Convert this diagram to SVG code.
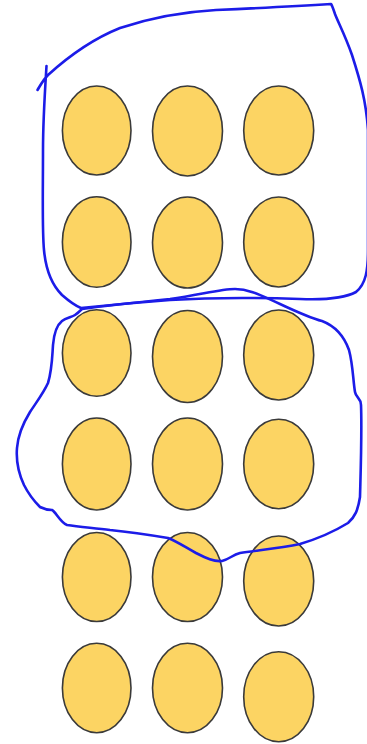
<svg xmlns="http://www.w3.org/2000/svg" width="367" height="744" viewBox="0 0 367 744">
<style>
.dot{fill:#FCD463;stroke:#3a3a3a;stroke-width:1.6}
.loop{fill:none;stroke:#1c1ce8;stroke-width:2.6;stroke-linecap:round;stroke-linejoin:round}
</style>
<rect width="367" height="744" fill="#ffffff"/>
<g id="nodes">
<ellipse id="n1" class="dot" cx="96.7" cy="130.5" rx="34.3" ry="44.5"/>
<ellipse id="n2" class="dot" cx="187.5" cy="131" rx="35" ry="45"/>
<ellipse id="n3" class="dot" cx="278.7" cy="130.5" rx="35" ry="44.5"/>
<ellipse id="n4" class="dot" cx="96.7" cy="242" rx="34.3" ry="45.3"/>
<ellipse id="n5" class="dot" cx="187.5" cy="242.5" rx="35" ry="45.5"/>
<ellipse id="n6" class="dot" cx="278.7" cy="242" rx="35" ry="45"/>
<ellipse id="n7" class="dot" cx="96.7" cy="353" rx="34.3" ry="43.3"/>
<ellipse id="n8" class="dot" cx="187.5" cy="356.5" rx="35" ry="46"/>
<ellipse id="n9" class="dot" cx="278.7" cy="355" rx="35" ry="45"/>
<ellipse id="n10" class="dot" cx="96.7" cy="464" rx="34.3" ry="46"/>
<ellipse id="n11" class="dot" cx="187.5" cy="464" rx="35" ry="46"/>
<ellipse id="n12" class="dot" cx="278.7" cy="464" rx="35" ry="44.7"/>
<ellipse id="n13" class="dot" cx="96.7" cy="577" rx="34.3" ry="44.5"/>
<ellipse id="n14" class="dot" cx="187.5" cy="577" rx="35" ry="44.5"/>
<ellipse id="n15" class="dot" cx="278.7" cy="581" rx="35" ry="45"/>
<ellipse id="n16" class="dot" cx="96.7" cy="688" rx="34.3" ry="44.7"/>
<ellipse id="n17" class="dot" cx="187.5" cy="688" rx="35" ry="44.7"/>
<ellipse id="n18" class="dot" cx="278.7" cy="696.7" rx="35" ry="45"/>
</g>
<g id="connectors">
<path id="loop1" class="loop" d="M46.5,66 C45,90 43,120 43,150 C43,190 42,230 44,250 C46,272 52,285 62,295 C70,302 76,306 81,308 C100,306 130,303 170,300 C220,297 270,298 300,299 C325,300 345,298 356,292 C366,284 368,270 368,250 L368,130 C366,100 360,80 352,55 C345,35 338,22 335,14 C333,8 332,5 331,4 C300,6 260,8 216,10 C180,12 150,18 120,28 C95,38 70,55 48,75 C43,80 40,86 37.5,90"/>
<path id="loop2" class="loop" d="M82,309 C110,305 140,302 170,299 C200,295 220,289 235,289 C250,289 262,296 280,304 C295,311 310,318 322,321 C335,326 344,336 349,350 C353,365 353,380 355,392 C356,398 361,398 361,405 C362,430 361,460 360,497 C358,510 355,517 348,523 C335,531 320,538 300,544 C280,548 260,550 240,553 C232,555 230,559 222,561 C214,562 206,558 196,553 C185,547 178,542 168,538 C150,535 130,532 110,530 C95,528 80,527 67,525 C60,522 56,512 52,510 C48,510 44,509 40,507 C35,502 29,495 24,485 C18,472 16,460 17,448 C18,435 22,425 30,412 C38,400 44,392 48,383 C52,370 52,360 53,345 C54,333 57,325 62,321 C66,318 72,317 75,315 C78,313 80,311 82,309"/>
</g>
</svg>
